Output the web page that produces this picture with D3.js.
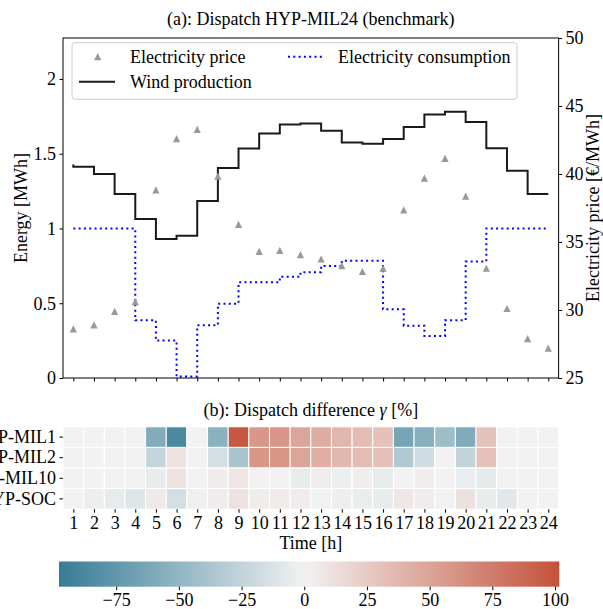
<!DOCTYPE html>
<html><head><meta charset="utf-8">
<script src="https://cdn.jsdelivr.net/npm/d3@7/dist/d3.min.js"></script>
<style>
body{margin:0;background:#fff}
text{font-family:"Liberation Serif","Times New Roman",serif;fill:#000}
</style>
</head><body>
<svg id="chart" width="603" height="609"></svg>
<script>
// ---------------- data ----------------
const hours = d3.range(1, 25);
const price = [28.61, 28.9, 29.9, 30.62, 38.84, 42.6, 43.28, 39.84, 36.29, 34.31, 34.38, 34.07,
               33.75, 33.27, 32.83, 33.07, 37.36, 39.69, 41.15, 38.38, 33.07, 30.11, 27.89, 27.2];
const wind = [1.428, 1.413, 1.364, 1.23, 1.063, 0.929, 0.951, 1.183, 1.404, 1.535, 1.636, 1.696,
              1.702, 1.653, 1.575, 1.566, 1.598, 1.678, 1.763, 1.78, 1.713, 1.536, 1.386, 1.23];
const consumption = [1.0, 1.0, 1.0, 1.0, 0.386, 0.25, 0.01, 0.352, 0.497, 0.64, 0.64, 0.677,
                     0.707, 0.749, 0.784, 0.784, 0.459, 0.35, 0.281, 0.386, 0.78, 1.0, 1.0, 1.0];
const leftTicks = [0, 0.5, 1, 1.5, 2];
const leftTickLabels = ["0", "0.5", "1", "1.5", "2"];
const rightTicks = [25, 30, 35, 40, 45, 50];

const models = ["HYP-MIL1", "HYP-MIL2", "HYP-MIL10", "HYP-SOC"];
const diffMIL1  = [0, 0, 0, 0, -58, -87, 0, -54, 98, 58, 58, 49, 44, 38, 34, 32, -64, -55, -44, -59, 31, 0, 0, 0];
const diffMIL2  = [0, 0, 0, 0, -24, 10, 0, -16, -37, 58, 58, 49, 43, 37, 34, 32, -35, -18, 0, -25, 31, 0, 0, 0];
const diffMIL10 = [0, 0, 0, 0, -5, 10, 0, 4, 8, 0, 0, -5, 3, -3, 3, -6, 0, 3, 0, -4, -7, 0, 0, 0];
const diffSOC   = [0, -3, -6, -10, 6, -16, 2, 4, 10, 4, 5, 4, -1, -3, -4, -5, 7, 4, 0, 11, -5, -9, 0, 0];
const diffRows = [diffMIL1, diffMIL2, diffMIL10, diffSOC];
const cbarTicks = [-75, -50, -25, 0, 25, 50, 75, 100];
const cbarMin = -97.8, cbarMax = 101.7;

// ---------------- setup ----------------
const svg = d3.select("#chart");
const FS = 18;
const fmtMinus = v => (v < 0 ? "\u2212" + Math.abs(v) : String(v));

// ---------- panel (a) ----------
const L = 63, R = 558.6, T = 38, B = 378;
const x = d3.scaleLinear().domain([0.5, 24.5]).range([L, R]);
const yL = d3.scaleLinear().domain([0, 2.274]).range([B, T]);
const yR = d3.scaleLinear().domain([25, 50]).range([B, T]);

svg.append("text").attr("x", (L + R) / 2).attr("y", 24.5).attr("text-anchor", "middle")
  .style("font-size", FS + "px").text("(a): Dispatch HYP-MIL24 (benchmark)");

// consumption (dotted blue, step pre)
svg.append("path")
  .datum(hours.map((h, i) => [h, consumption[i]]))
  .attr("fill", "none").attr("stroke", "#0000ff").attr("stroke-width", 2)
  .attr("stroke-dasharray", "2,3.3")
  .attr("d", d3.line().x(d => x(d[0])).y(d => yL(d[1])).curve(d3.curveStepBefore));

// wind (black, step pre)
svg.append("path")
  .datum(hours.map((h, i) => [h, wind[i]]))
  .attr("fill", "none").attr("stroke", "#1a1a1a").attr("stroke-width", 2)
  .attr("d", d3.line().x(d => x(d[0])).y(d => yL(d[1])).curve(d3.curveStepBefore));

// price triangles
const triPath = s => `M0,${-s}L${s},${s}L${-s},${s}Z`;
svg.append("g").selectAll("path").data(hours).join("path")
  .attr("transform", (h, i) => `translate(${x(h)},${yR(price[i])})`)
  .attr("d", triPath(3.6)).attr("fill", "#999999");

// frame
svg.append("rect").attr("x", L).attr("y", T).attr("width", R - L).attr("height", B - T)
  .attr("fill", "none").attr("stroke", "#000").attr("stroke-width", 1);

// axes
function styleAxis(g) {
  g.select(".domain").remove();
  g.selectAll(".tick line").attr("stroke", "#000");
  g.selectAll(".tick text").style("font-size", FS + "px")
    .style("font-family", '"Liberation Serif","Times New Roman",serif').attr("fill", "#000");
}
svg.append("g").attr("transform", `translate(0,${B})`)
  .call(d3.axisBottom(x).tickValues(hours).tickSize(3.5).tickFormat(""))
  .call(styleAxis);
svg.append("g").attr("transform", `translate(${L},0)`)
  .call(d3.axisLeft(yL).tickValues(leftTicks).tickSize(3.5).tickPadding(3.5)
        .tickFormat((d, i) => leftTickLabels[i]))
  .call(styleAxis);
svg.append("g").attr("transform", `translate(${R},0)`)
  .call(d3.axisRight(yR).tickValues(rightTicks).tickSize(3.5).tickPadding(3.5))
  .call(styleAxis);

svg.append("text").attr("transform", `translate(27,${(T + B) / 2}) rotate(-90)`)
  .attr("text-anchor", "middle").style("font-size", FS + "px").text("Energy [MWh]");
svg.append("text").attr("transform", `translate(598.5,${(T + B) / 2}) rotate(-90)`)
  .attr("text-anchor", "middle").style("font-size", FS + "px").text("Electricity price [\u20AC/MWh]");

// legend
const lg = svg.append("g");
lg.append("rect").attr("x", 72).attr("y", 42.7).attr("width", 445).attr("height", 56.6)
  .attr("rx", 3).attr("fill", "#fff").attr("fill-opacity", 0.8).attr("stroke", "#cccccc");
lg.append("path").attr("transform", "translate(97.7,56.7)").attr("d", triPath(3.6)).attr("fill", "#999999");
lg.append("text").attr("x", 130).attr("y", 62.7).style("font-size", FS + "px").text("Electricity price");
lg.append("line").attr("x1", 288).attr("x2", 322).attr("y1", 56.7).attr("y2", 56.7)
  .attr("stroke", "#0000ff").attr("stroke-width", 2).attr("stroke-dasharray", "2,3.3");
lg.append("text").attr("x", 338).attr("y", 62.7).style("font-size", FS + "px").text("Electricity consumption");
lg.append("line").attr("x1", 79).attr("x2", 115).attr("y1", 81.7).attr("y2", 81.7)
  .attr("stroke", "#1a1a1a").attr("stroke-width", 2);
lg.append("text").attr("x", 130).attr("y", 87.7).style("font-size", FS + "px").text("Wind production");

// ---------- panel (b) heatmap ----------
const HT = 426.8, HB = 509.2;
const yH = d3.scaleBand().domain(models).range([HT, HB]);
const vr = Math.max(cbarMax, -cbarMin);
const color = d3.scaleLinear().domain([-vr, 0, vr]).range(["#2e7792", "#f2f2f2", "#c4523a"])
  .interpolate(d3.interpolateRgb).clamp(true);

const t2 = svg.append("text").attr("x", (L + R) / 2).attr("y", 415.5).attr("text-anchor", "middle")
  .style("font-size", FS + "px");
t2.append("tspan").text("(b): Dispatch difference ");
t2.append("tspan").style("font-style", "italic").text("\u03B3");
t2.append("tspan").text(" [%]");

const cells = [];
models.forEach((m, r) => hours.forEach((h, c) => cells.push({m, h, v: diffRows[r][c]})));
svg.append("g").selectAll("rect").data(cells).join("rect")
  .attr("x", d => x(d.h - 0.5)).attr("y", d => yH(d.m))
  .attr("width", d => x(d.h + 0.5) - x(d.h - 0.5)).attr("height", yH.bandwidth())
  .attr("fill", d => color(d.v)).attr("stroke", "#fff").attr("stroke-width", 1);

svg.append("g").attr("transform", `translate(0,${HB})`)
  .call(d3.axisBottom(x).tickValues(hours).tickSize(3.5).tickPadding(3.5))
  .call(styleAxis);
svg.append("g").attr("transform", `translate(${L},0)`)
  .call(d3.axisLeft(yH).tickSize(3.5).tickPadding(3.5))
  .call(styleAxis);
svg.append("text").attr("x", (L + R) / 2).attr("y", 548.5).attr("text-anchor", "middle")
  .style("font-size", FS + "px").text("Time [h]");

// ---------- colorbar ----------
const CL = 59, CR = 559.3, CT = 561.5, CB = 586.7;
const xc = d3.scaleLinear().domain([cbarMin, cbarMax]).range([CL, CR]);
const defs = svg.append("defs");
const grad = defs.append("linearGradient").attr("id", "cbg").attr("x1", "0%").attr("x2", "100%");
d3.range(0, 1.0001, 0.02).forEach(t => {
  grad.append("stop").attr("offset", (t * 100) + "%").attr("stop-color", color(cbarMin + t * (cbarMax - cbarMin)));
});
svg.append("rect").attr("x", CL).attr("y", CT).attr("width", CR - CL).attr("height", CB - CT)
  .attr("fill", "url(#cbg)");
svg.append("g").attr("transform", `translate(0,${CB})`)
  .call(d3.axisBottom(xc).tickValues(cbarTicks).tickSize(3.5).tickPadding(3.5).tickFormat(fmtMinus))
  .call(styleAxis);
</script>
</body></html>
